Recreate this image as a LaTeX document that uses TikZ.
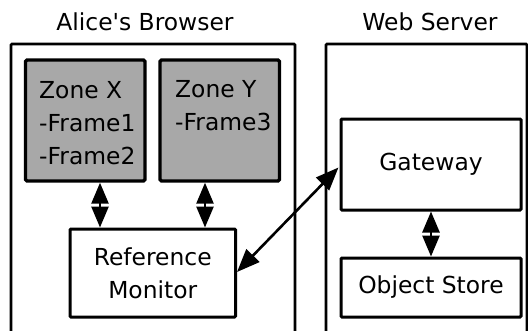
\documentclass[tikz,border=0pt]{standalone}
\usepackage{fontspec}
\newfontfamily\dejavu{DejaVu Sans}
\usetikzlibrary{arrows.meta,calc}
\definecolor{zonegray}{RGB}{168,168,168}
\begin{document}
\begin{tikzpicture}[x=1pt,y=-1pt,
  every node/.style={font=\dejavu\fontsize{23.4}{33}\selectfont},
  outerbox/.style={draw,line width=2.6pt,rounded corners=1pt,inner sep=0},
  zonebox/.style={draw,line width=3.4pt,fill=zonegray,rounded corners=1.5pt,inner sep=0},
  plainbox/.style={draw,line width=3pt,rounded corners=1pt,inner sep=0,align=center},
  dblarrow/.style={line width=2.6pt,{Triangle[length=21pt,width=17pt]}-{Triangle[length=21pt,width=17pt]}},
  diagarrow/.style={line width=2.6pt,{Triangle[length=23pt,width=18pt]}-{Triangle[length=23pt,width=18pt]}},
  label/.style={inner sep=0,align=left}]
\useasboundingbox (0,0) rectangle (528,330);
\clip (0,0) rectangle (528,330);
% titles
\node (btitle) at (145,22) {Alice's Browser};
\node (stitle) at (430,22) {Web Server};
% outer boxes
\node[outerbox,minimum width=284pt,minimum height=356pt] (browser) at (153,222) {};
\node[outerbox,minimum width=201pt,minimum height=356pt] (server) at (426.5,222) {};
% zones
\node[zonebox,minimum width=119.5pt,minimum height=121pt] (zoneX) at (85.25,120.5) {};
\node[zonebox,minimum width=119.5pt,minimum height=121pt] (zoneY) at (219.75,120.5) {};
\node[label,anchor=west] (zxt) at (39,123) {Zone X\\-Frame1\\-Frame2};
\node[label,anchor=west] (zyt) at (175,106) {Zone Y\\-Frame3};
% inner boxes
\node[plainbox,minimum width=165.5pt,minimum height=88pt] (rm) at (152.75,273) {Reference\\Monitor};
\node[plainbox,minimum width=180pt,minimum height=91pt] (gateway) at (431,164.5) {Gateway};
\node[plainbox,minimum width=180pt,minimum height=59pt] (store) at (431,287.5) {Object Store};
% arrows
\coordinate (ax) at (100,0);
\coordinate (ay) at (205,0);
\draw[dblarrow] (zoneX.south -| ax) -- (rm.north -| ax);
\draw[dblarrow] (zoneY.south -| ay) -- (rm.north -| ay);
\draw[dblarrow] (gateway.south) -- (store.north);
\draw[diagarrow] ($(gateway.west)+(-1,3)$) -- ($(rm.east)+(0,-1)$);
\end{tikzpicture}
\end{document}
